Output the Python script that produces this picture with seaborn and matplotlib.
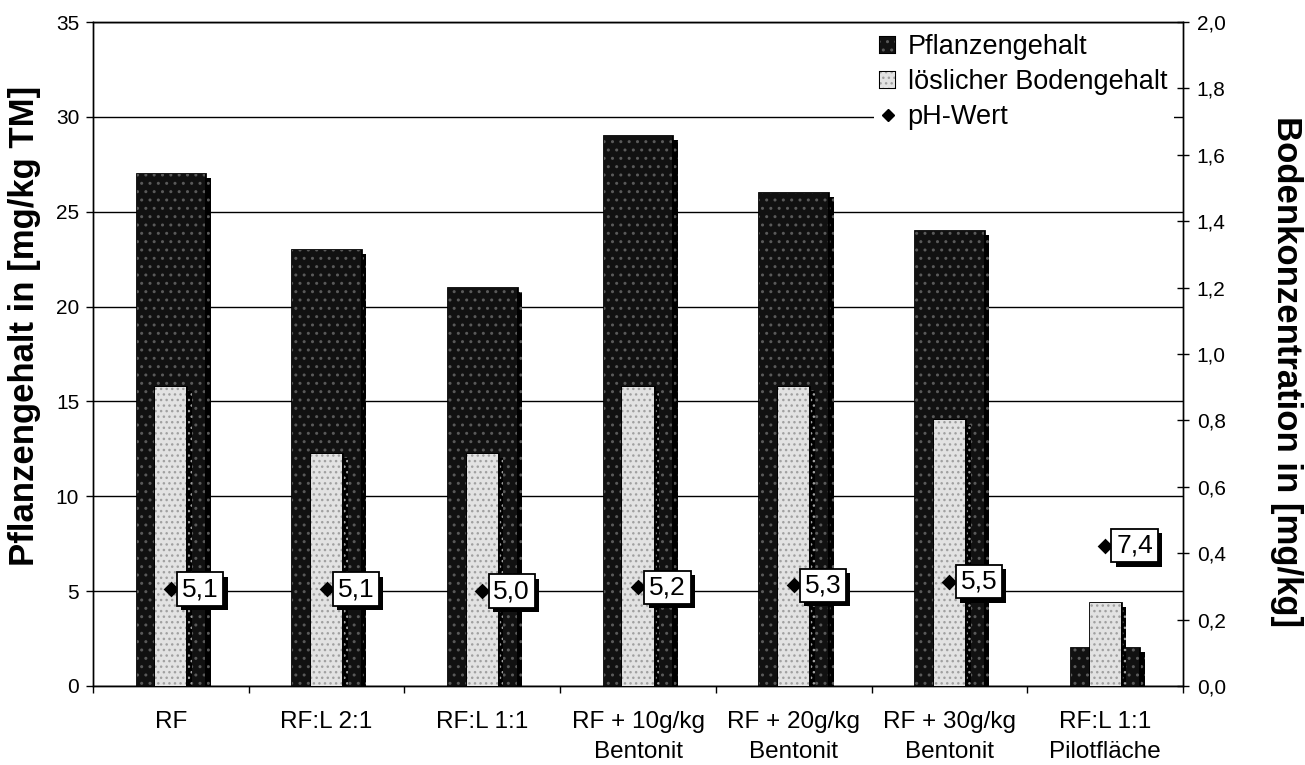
import matplotlib
matplotlib.use("Agg")
import matplotlib.pyplot as plt
import matplotlib.patheffects as pe
from matplotlib.patches import Patch
from matplotlib.lines import Line2D
from matplotlib.ticker import FixedLocator, FuncFormatter, MultipleLocator
import seaborn as sns
import pandas as pd

categories = ["RF", "RF:L 2:1", "RF:L 1:1", "RF + 10g/kg\nBentonit",
              "RF + 20g/kg\nBentonit", "RF + 30g/kg\nBentonit", "RF:L 1:1\nPilotfläche"]
pflanzengehalt = [27, 23, 21, 29, 26, 24, 2]          # mg/kg TM, left axis
boden_loeslich = [0.9, 0.7, 0.7, 0.9, 0.9, 0.8, 0.25]  # mg/kg, right axis
ph_wert = [5.1, 5.1, 5.0, 5.2, 5.3, 5.5, 7.4]

df = pd.DataFrame({"kat": categories, "pflanze": pflanzengehalt,
                   "boden": boden_loeslich, "ph": ph_wert})

sns.set_theme(style="white")
plt.rcParams["font.family"] = ["Liberation Sans", "DejaVu Sans"]
plt.rcParams.update({"hatch.linewidth": 1.0, "text.color": "black",
                     "axes.labelcolor": "black", "xtick.color": "black",
                     "ytick.color": "black"})

fig = plt.figure(figsize=(13.05, 7.65), dpi=100)
ax = fig.add_axes([0.0713, 0.1033, 0.8352, 0.8679])
ax2 = ax.twinx()
ax3 = ax.twinx()

shadow = [pe.SimplePatchShadow(offset=(4, -3), shadow_rgbFace="black", alpha=1.0),
          pe.Stroke(linewidth=2, foreground="black"), pe.Normal()]

# plant content (dark, speckled)
sns.barplot(data=df, x="kat", y="pflanze", order=categories, color="#111111",
            saturation=1, width=0.44, edgecolor="#5a5a5a", linewidth=0,
            hatch="..", ax=ax, zorder=3)
for p in ax.patches:
    p.set_path_effects(shadow)

# soluble soil content (light, speckled)
sns.barplot(data=df, x="kat", y="boden", order=categories, color="#e2e2e2",
            saturation=1, width=0.2, edgecolor="#a0a0a0", linewidth=0,
            hatch="...", ax=ax2, zorder=3)
for p in ax2.patches:
    p.set_path_effects(shadow)

# pH values on the left scale
sns.stripplot(data=df, x="kat", y="ph", order=categories, jitter=False,
              color="black", marker="D", size=8, linewidth=0, ax=ax3, zorder=5)
box_fx = [pe.withSimplePatchShadow(offset=(3, -3), shadow_rgbFace="black", alpha=1.0)]
for i, v in enumerate(ph_wert):
    t = ax3.annotate(f"{v:.1f}".replace(".", ","), (i, v), xytext=(8, 0),
                     textcoords="offset points", ha="left", va="center",
                     fontsize=19, color="black", zorder=6,
                     bbox=dict(boxstyle="square,pad=0.18", fc="white", ec="black", lw=1.3))
    t.get_bbox_patch().set_path_effects(box_fx)

for a in (ax, ax2, ax3):
    a.set_xlim(-0.5, len(categories) - 0.5)
ax.set_ylim(0, 35)
ax3.set_ylim(0, 35)
ax2.set_ylim(0, 2.0)
ax3.axis("off")

# left axis
ax.yaxis.set_major_locator(MultipleLocator(5))
ax.grid(axis="y", color="black", linewidth=1.0, zorder=0)
ax.set_axisbelow(True)
ax.tick_params(axis="y", which="major", direction="out", length=5, width=1,
               labelsize=15, colors="black", left=True, pad=5)
ax.set_ylabel("Pflanzengehalt in [mg/kg TM]", fontsize=25, fontweight="bold")
ax.yaxis.set_label_coords(-0.048, 0.542)
ax.set_xlabel("")

# right axis
ax2.yaxis.set_major_locator(MultipleLocator(0.2))
ax2.yaxis.set_major_formatter(FuncFormatter(lambda v, _: f"{v:.1f}".replace(".", ",")))
ax2.tick_params(axis="y", which="major", direction="inout", length=8, width=1,
                labelsize=15, colors="black", right=True, pad=6)
ax2.set_ylabel("Bodenkonzentration in [mg/kg]", fontsize=25, fontweight="bold",
               rotation=-90, va="center")
ax2.yaxis.set_label_coords(1.095, 0.473)
ax2.set_xlabel("")
ax2.grid(False)

# category axis
ax.set_xticks(range(len(categories)))
ax.set_xticklabels(categories, fontsize=17.5, color="black", linespacing=1.45)
ax.tick_params(axis="x", which="major", length=0, pad=18)
ax.xaxis.set_minor_locator(FixedLocator([i - 0.5 for i in range(len(categories) + 1)]))
ax.tick_params(axis="x", which="minor", direction="out", length=5, width=1,
               bottom=True, color="black")
ax2.tick_params(axis="x", which="both", length=0)

for a in (ax, ax2):
    for s in a.spines.values():
        s.set_color("black")
        s.set_linewidth(1.0)

handles = [Patch(facecolor="#111111", edgecolor="#5a5a5a", hatch="..", linewidth=0),
           Patch(facecolor="#e2e2e2", edgecolor="#a0a0a0", hatch="...", linewidth=0),
           Line2D([], [], marker="D", color="black", linestyle="none", markersize=6)]
handles[0].set_path_effects([pe.Stroke(linewidth=1.5, foreground="black"), pe.Normal()])
handles[1].set_path_effects([pe.Stroke(linewidth=1.5, foreground="black"), pe.Normal()])
leg = ax3.legend(handles, ["Pflanzengehalt", "löslicher Bodengehalt", "pH-Wert"],
                 loc="upper right", bbox_to_anchor=(1.004, 1.012), fontsize=19.5,
                 frameon=True, fancybox=False, framealpha=1, edgecolor="none",
                 handlelength=0.55, handleheight=0.55, handletextpad=0.45,
                 labelspacing=0.33, borderpad=0.25)
leg.set_zorder(10)

fig.savefig("out.png", dpi=100)
